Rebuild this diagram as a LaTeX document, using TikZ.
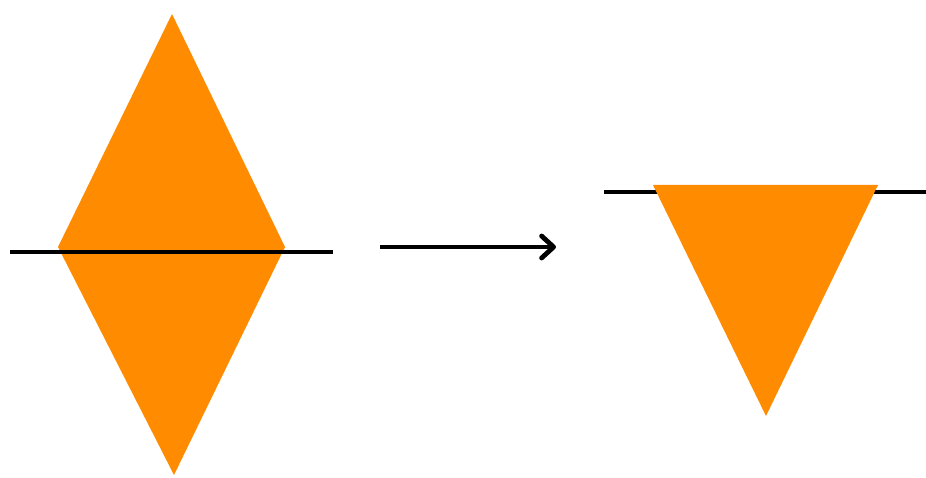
\documentclass[tikz,border=0pt]{standalone}
\usetikzlibrary{arrows.meta}
\definecolor{shapeorange}{RGB}{255,140,0}
\begin{document}
\begin{tikzpicture}[x=1pt,y=-1pt,
  shapefill/.style={fill=shapeorange,draw=none},
  blackline/.style={line width=4.8pt,black},
  arrowline/.style={line width=4.8pt,black,-{Straight Barb[length=12pt,width=22pt,line width=4.8pt,round]}}]
\useasboundingbox[fill=white] (0,0) rectangle (926,478);
% left diamond
\coordinate (dtop) at (172,14);
\coordinate (dleft) at (58,247);
\coordinate (dright) at (285,247);
\coordinate (dbot) at (174,475);
\fill[shapefill] (dtop) -- (dright) -- (dbot) -- (dleft) -- cycle;
\coordinate (l1a) at (10,252);
\coordinate (l1b) at (333,252);
\draw[blackline] (l1a) -- (l1b);
% arrow
\coordinate (aa) at (380,247);
\coordinate (ab) at (556,247);
\draw[arrowline] (aa) -- (ab);
% right triangle
\coordinate (l2a) at (604,192);
\coordinate (l2b) at (926,192);
\draw[blackline] (l2a) -- (l2b);
\coordinate (ttl) at (653,185);
\coordinate (ttr) at (878,185);
\coordinate (tb) at (766,416);
\fill[shapefill] (ttl) -- (ttr) -- (tb) -- cycle;
\end{tikzpicture}
\end{document}
